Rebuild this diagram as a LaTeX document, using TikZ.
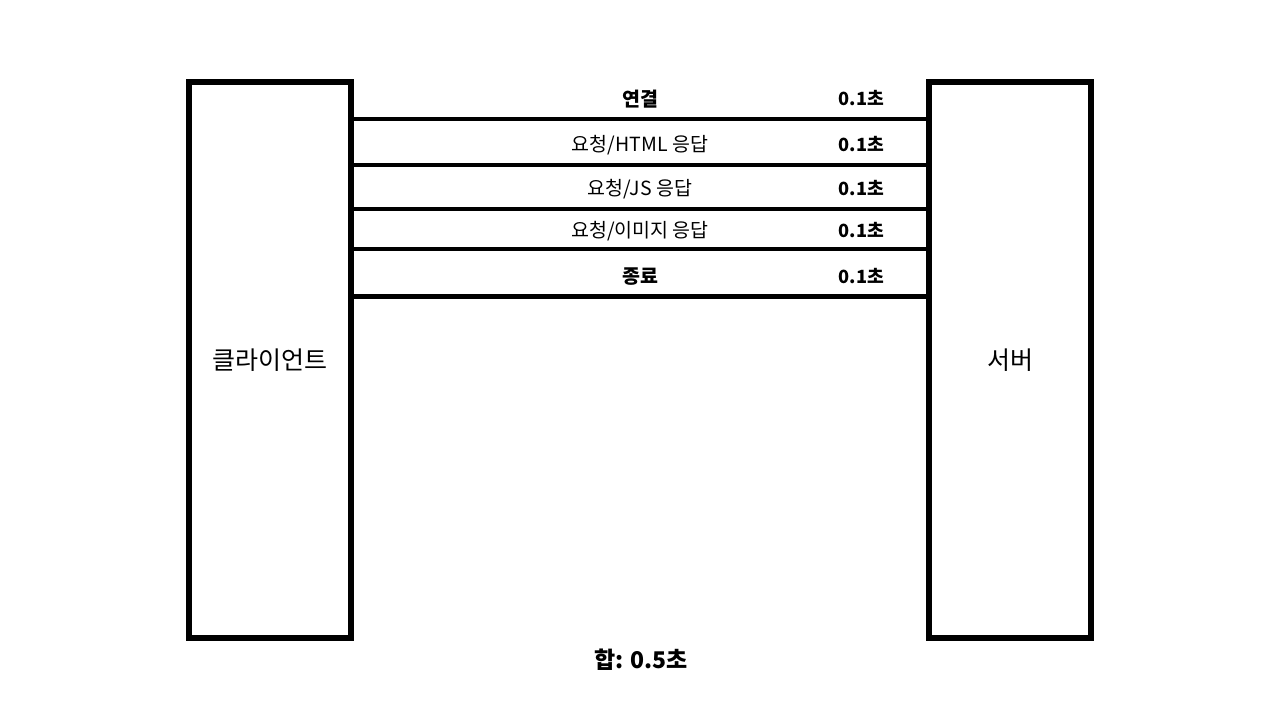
\documentclass[tikz,border=0pt]{standalone}
\usepackage{fontspec}
\setmainfont{Noto Sans CJK KR}
\begin{document}
\begin{tikzpicture}[x=1pt,y=-1pt,
  box/.style={draw=black,line width=6pt,minimum width=162pt,minimum height=556pt,inner sep=0pt,font=\fontsize{25}{29}\selectfont},
  sep/.style={draw=black,line width=4.5pt},
  lbl/.style={font=\fontsize{19.5}{23}\selectfont,anchor=center},
  blbl/.style={font=\fontsize{19.5}{23}\selectfont\bfseries,anchor=center},
  tlbl/.style={font=\fontsize{18.2}{22}\selectfont\bfseries,anchor=center}]
\useasboundingbox (0,0) rectangle (1280,720);
\node[box] (client) at (270,360) {클라이언트};
\node[box] (server) at (1010,360) {서버};
\foreach \i/\y in {1/119,2/165,3/209,4/249,5/296.5}{
  \coordinate (l\i) at (0,\y);
  \draw[sep] (client.east |- l\i) -- (server.west |- l\i);
}
\node[blbl] (t1) at (640,99) {연결};
\node[lbl] (t2) at (640,145) {요청/HTML 응답};
\node[lbl] (t3) at (640,189) {요청/JS 응답};
\node[lbl] (t4) at (640,231) {요청/이미지 응답};
\node[blbl] (t5) at (640,277) {종료};
\foreach \i/\y in {1/98,2/144,3/188,4/230,5/276}{
  \node[tlbl] (d\i) at (861.5,\y) {0.1초};
}
\node[font=\fontsize{23}{27}\selectfont\bfseries] (sum) at (641,660) {합: 0.5초};
\end{tikzpicture}
\end{document}
